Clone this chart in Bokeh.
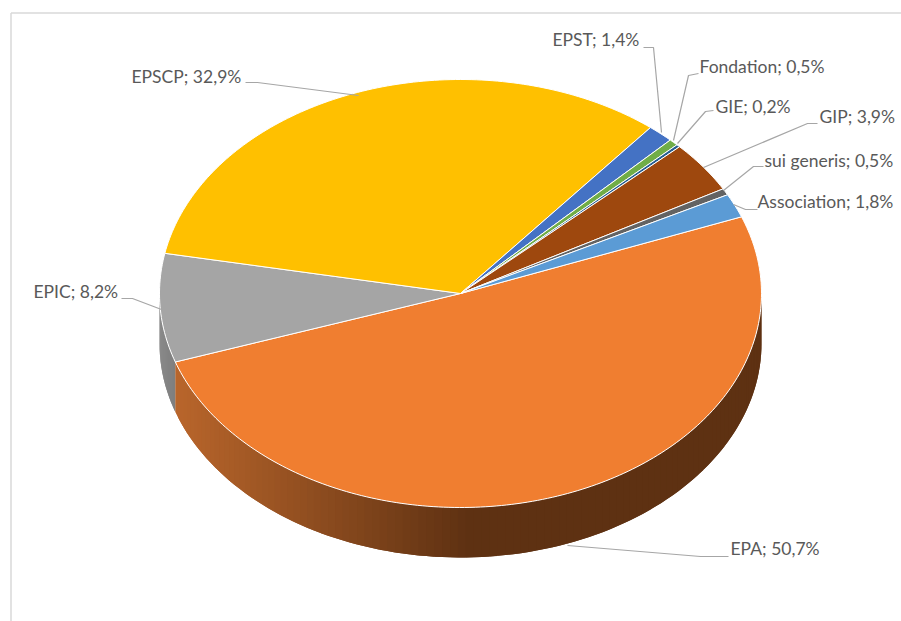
import math
from bokeh.plotting import figure
from bokeh.models import Range1d
from bokeh.core.properties import value
from bokeh.embed import file_html
from bokeh.resources import INLINE

# ---- data ----
categories = ["EPA", "EPIC", "EPSCP", "EPST", "Fondation", "GIE", "GIP", "sui generis", "Association"]
shares = [50.7, 8.2, 32.9, 1.4, 0.5, 0.2, 3.9, 0.5, 1.8]
share_labels = ["50,7%", "8,2%", "32,9%", "1,4%", "0,5%", "0,2%", "3,9%", "0,5%", "1,8%"]
colors = ["#F07E30", "#A5A5A5", "#FFC000", "#4472C4", "#70AD47", "#255E91", "#9E480E", "#636363", "#5B9BD5"]

# ---- layout (page pixels) ----
CX, CY, RX, RY, DEPTH = 460.0, 293.0, 301.0, 214.0, 50.0
FIRST_ANGLE = 69.0
label_x = [730, 33, 131, 552, 699, 715, 819, 764, 757]
label_y = [548, 291, 76, 39, 66, 106, 116, 160, 201]
leader_x = [[728, 700, 567], [121, 132, 161], [245, 257, 358], [643, 653, 661], [698, 688, 673],
            [713, 705, 677], [817, 807, 703], [763, 753, 723], [757, 745, 733]]
leader_y = [[556, 556, 545], [298, 298, 309], [82, 82, 95], [47, 47, 132], [73, 75, 140],
            [110, 111, 143], [123, 123, 167], [166, 166, 190], [209, 209, 204]]


def rim(t, dy=0.0):
    r = math.radians(t)
    return CX + RX * math.sin(r), CY - RY * math.cos(r) + dy


def mix(a, b, f):
    ca = [int(a[i:i + 2], 16) for i in (1, 3, 5)]
    cb = [int(b[i:i + 2], 16) for i in (1, 3, 5)]
    return "#%02x%02x%02x" % tuple(round(x + (y - x) * f) for x, y in zip(ca, cb))


p = figure(width=901, height=621, output_backend="svg", toolbar_location=None,
           x_range=Range1d(0, 901), y_range=Range1d(621, 0), min_border=0)
p.axis.visible = False
p.grid.visible = False
p.outline_line_color = None
p.background_fill_color = "white"

# chart frame
p.line([10.5, 10.5], [621, 12.5], line_color="#D9D9D9", line_width=1.5)
p.line([10.5, 901], [12.5, 12.5], line_color="#D9D9D9", line_width=1.5)

# slice angles from the values
total = sum(shares)
edges = [FIRST_ANGLE]
for s in shares:
    edges.append(edges[-1] + s / total * 360.0)

# side wall: EPA then EPIC, shaded by position; strips overlap to avoid seams
wall = [(1, "#7E7E7E", "#8E8E8E"), (0, "#5E3112", "#B8652B")]
for idx, dark, light in wall:
    a0 = max(edges[idx], 90.0)
    a1 = min(edges[idx + 1], 270.0)
    n = max(2, int((a1 - a0) / 1.5))
    for k in range(n):
        t0 = a0 + (a1 - a0) * k / n
        t1 = a0 + (a1 - a0) * (k + 1) / n
        x0, y0 = rim(t0)
        x1, y1 = rim(t1)
        xb0, yb0 = rim(t0, DEPTH)
        xb1, yb1 = rim(t1, DEPTH)
        xmid = (x0 + x1) / 2
        if idx == 0:
            f = max(0.0, min(1.0, (CX - xmid) / (CX - rim(edges[1])[0])))
        else:
            f = (t0 - a0) / (a1 - a0)
        c = mix(dark, light, f)
        # extend the strip back under its predecessor
        tb = max(a0, t0 - 1.5)
        xp, yp = rim(tb)
        xpb, ypb = rim(tb, DEPTH)
        p.patch([xp, x0, x1, xb1, xb0, xpb], [yp, y0, y1, yb1, yb0, ypb], fill_color=c, line_color=None)

# top faces
for i, name in enumerate(categories):
    a0, a1 = edges[i], edges[i + 1]
    n = max(2, int((a1 - a0) / 1.0))
    xs, ys = [CX], [CY]
    for k in range(n + 1):
        x, y = rim(a0 + (a1 - a0) * k / n)
        xs.append(x)
        ys.append(y)
    p.patch(xs, ys, fill_color=colors[i], line_color="white", line_width=1)

# leaders and labels
for i, name in enumerate(categories):
    p.line(leader_x[i], leader_y[i], line_color="#A6A6A6", line_width=1.2)
    p.text([label_x[i]], [label_y[i]], text=[f"{name}; {share_labels[i]}"],
           text_font=value("Lato"), text_font_size="17.5px", text_color="#595959",
           text_align="left", text_baseline="middle")

open("out.html", "w").write(file_html(p, INLINE))
